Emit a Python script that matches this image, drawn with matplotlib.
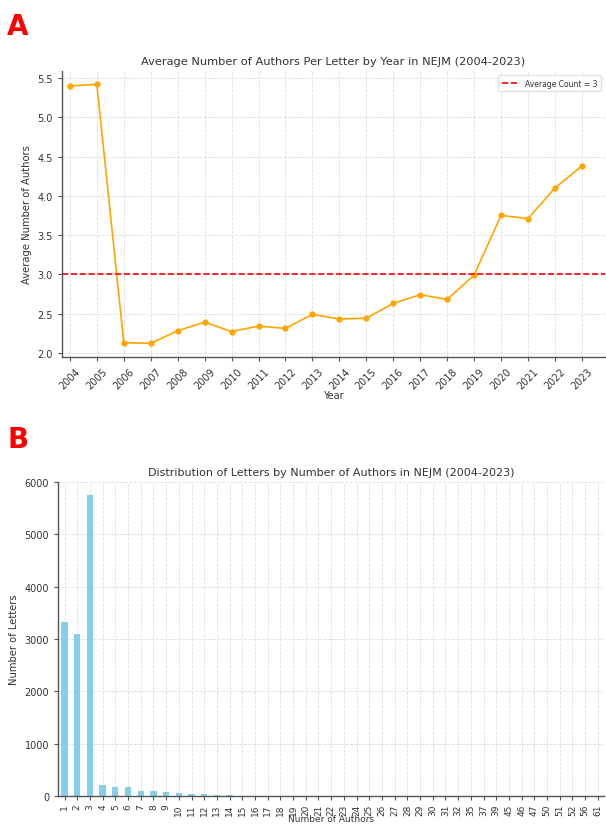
import matplotlib
matplotlib.use('Agg')
import matplotlib.pyplot as plt
import numpy as np

matplotlib.rcParams['font.family'] = 'DejaVu Sans'

# Panel A data
years = list(range(2004, 2024))
avg_authors = [5.40, 5.42, 2.13, 2.12, 2.28, 2.39, 2.27, 2.34, 2.31, 2.49,
               2.43, 2.44, 2.63, 2.74, 2.68, 2.99, 3.75, 3.71, 4.10, 4.38]
avg_line = 3

# Panel B data
n_authors = list(range(1, 33)) + [35, 37, 39, 45, 46, 47, 50, 51, 52, 56, 61]
n_letters = [3320, 3100, 5740, 210, 180, 175, 95, 105, 85, 70,
             45, 45, 25, 20, 8, 6, 10, 4, 3, 2,
             2, 2, 1, 2, 1, 1, 1, 1, 1, 1,
             1, 1, 1, 1, 1, 1, 1, 1, 1, 1,
             1, 1, 1]

text_color = '#333333'
spine_color = '#555555'

fig = plt.figure(figsize=(6.06, 8.28), dpi=100)


def style_ax(ax):
    for s in ['top', 'right']:
        ax.spines[s].set_visible(False)
    for s in ['left', 'bottom']:
        ax.spines[s].set_color(spine_color)
        ax.spines[s].set_linewidth(1.0)
    ax.grid(True, linestyle='--', color='#dddddd', linewidth=0.6)
    ax.set_axisbelow(True)
    ax.tick_params(colors=text_color, labelsize=7, length=3, color=spine_color)


# ====== Panel A ======
ax1 = fig.add_axes([0.102, 0.568, 0.896, 0.345])
style_ax(ax1)
ax1.plot(years, avg_authors, 'o-', color='orange', linewidth=1.2, markersize=3.5)
ax1.axhline(avg_line, color='red', linestyle='--', linewidth=1.2,
            label=f'Average Count = {avg_line}')
ax1.set_xlim(2003.7, 2023.85)
ax1.set_ylim(1.95, 5.59)
ax1.set_xticks(years)
ax1.set_xticklabels([str(y) for y in years], rotation=45)
ax1.set_title('Average Number of Authors Per Letter by Year in NEJM (2004-2023)',
              fontsize=8.2, color=text_color, pad=5)
ax1.set_xlabel('Year', fontsize=7, color=text_color, labelpad=0)
ax1.set_ylabel('Average Number of Authors', fontsize=7.2, color=text_color)
leg = ax1.legend(loc='upper right', fontsize=5.5, frameon=True, handlelength=2.2,
                 borderpad=0.5)
leg.get_frame().set_edgecolor('#dddddd')
for t in leg.get_texts():
    t.set_color(text_color)

fig.text(0.012, 0.958, 'A', color='red', fontsize=20, fontweight='bold')

# ====== Panel B ======
ax2 = fig.add_axes([0.096, 0.037, 0.901, 0.380])
style_ax(ax2)
ax2.tick_params(axis='x', pad=2, labelsize=6.5)
x = np.arange(len(n_authors))
ax2.bar(x, n_letters, width=0.5, color='skyblue')
ax2.set_xlim(-0.5, len(n_authors) - 0.5)
ax2.set_ylim(0, 6000)
ax2.set_xticks(x)
ax2.set_xticklabels([str(v) for v in n_authors], rotation=90)
ax2.set_yticks([0, 1000, 2000, 3000, 4000, 5000, 6000])
ax2.set_title('Distribution of Letters by Number of Authors in NEJM (2004-2023)',
              fontsize=8.0, color=text_color, pad=5)
ax2.set_xlabel('Number of Authors', fontsize=6.5, color=text_color)
ax2.xaxis.set_label_coords(0.5, -0.055)
ax2.set_ylabel('Number of Letters', fontsize=7.2, color=text_color)

fig.text(0.012, 0.459, 'B', color='red', fontsize=20, fontweight='bold')

fig.savefig('out.png', dpi=100)
